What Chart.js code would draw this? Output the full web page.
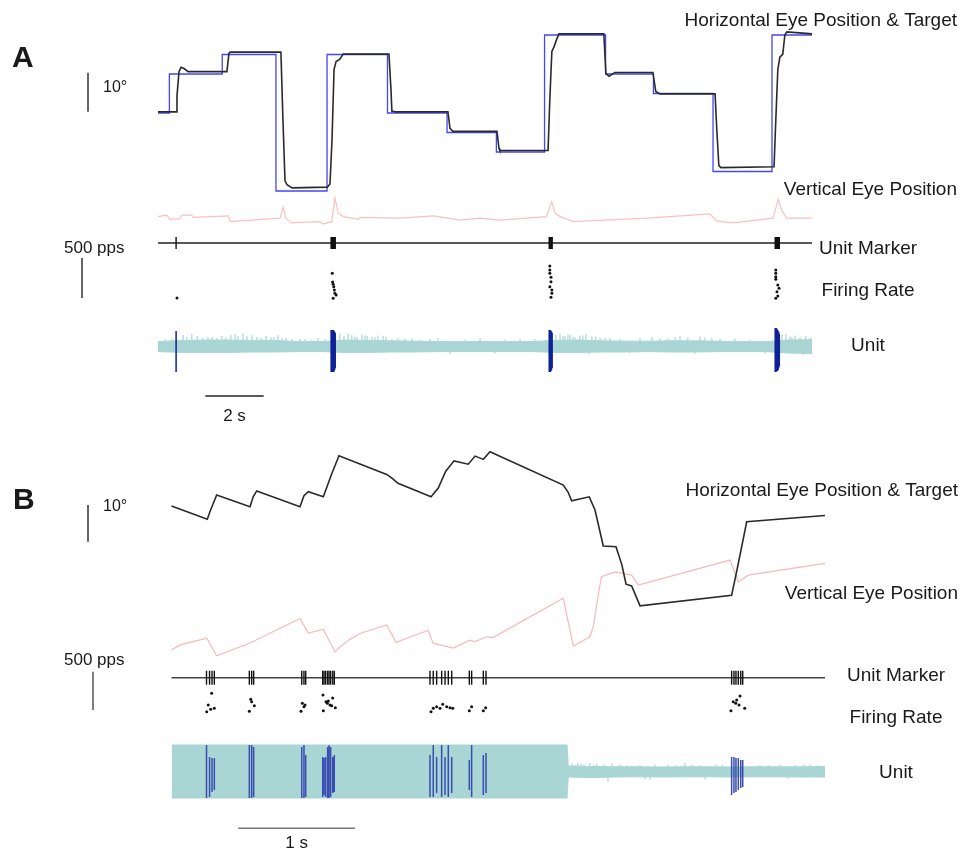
<!DOCTYPE html>
<html><head><meta charset="utf-8">
<script src="https://cdn.jsdelivr.net/npm/chart.js@4.4.1/dist/chart.umd.min.js"></script>
<style>
html,body{margin:0;padding:0;background:#fff;}
#wrap{position:relative;width:963px;height:850px;overflow:hidden;}
canvas{position:absolute;left:0;}
#cA{top:0;}
#cB{top:430px;}
</style></head><body>
<div id="wrap"><canvas id="cA" width="963" height="430"></canvas><canvas id="cB" width="963" height="420"></canvas></div>
<script>
// ================= DATA =================
const PANEL_LETTERS = ['A', 'B'];
const TOP_LABELS = ['Horizontal Eye Position & Target', 'Vertical Eye Position'];
const LOW_LABELS = ['Unit Marker', 'Firing Rate', 'Unit'];
const DEG_LABEL = '10°';
const RATE_LABEL = '500 pps';
const TIME_LABELS = ['2 s', '1 s'];

// ---- Panel A (time in s, positions in deg, rate in pps, unit in µV) ----
const A_range = [0, 22.4];
const A_eyeT = [0,0.62,0.65,0.72,0.79,0.89,1.03,2.36,2.43,2.47,4.21,4.28,4.35,4.42,4.59,5.80,5.89,5.96,6.03,6.10,6.23,6.34,7.91,7.98,8.01,8.12,9.93,10.00,10.10,11.61,11.68,11.71,13.36,13.42,13.49,13.56,13.66,13.73,15.27,15.34,15.45,15.55,15.65,16.95,17.05,17.19,19.08,19.14,19.21,19.28,21.10,21.16,21.23,21.30,21.40,21.47,21.54,22.40];
const A_eyeDeg = [0.3,0.3,4.4,10.6,11.7,11.4,10.6,10.6,15.3,15.6,15.6,-1.8,-17.4,-18.4,-19.2,-19.0,-18.2,-7.0,11.2,13.2,13.8,15.1,15.1,6.0,0.5,0.3,0.3,-3.9,-4.7,-4.7,-9.1,-9.6,-9.6,3.4,15.8,16.9,19.0,20.3,20.3,10.1,9.4,9.9,10.4,10.4,5.5,4.9,4.9,-4.4,-13.5,-14.0,-13.8,-1.8,11.2,14.3,15.1,20.0,20.8,20.3];
const A_tgtT = [0,0.39,2.20,4.04,5.79,7.86,9.90,11.59,13.24,15.33,16.97,19.01,21.03,22.40];
const A_tgtDeg = [0,10,15,-20,15,0,-5,-10,20,10,5,-15,20,20];
const A_vT = [0,0.30,0.41,0.75,0.81,1.15,1.21,2.41,2.47,4.18,4.29,4.38,4.58,5.55,5.64,5.95,6.06,6.17,6.35,6.86,6.92,8.29,9.43,10.34,11.03,11.71,13.31,13.48,13.60,13.77,14.11,14.22,16.74,18.90,19.13,19.70,21.07,21.24,21.36,21.53,22.39];
const A_vDeg = [0.1,0.5,-0.6,-0.4,0.5,0.5,-0.1,0.3,-1.2,-0.3,2.5,-0.3,-1.5,-1.2,-1.8,-1.2,4.9,1.0,0.1,-0.6,-0.1,-0.3,0.3,-0.8,-0.3,-0.8,0.1,4.0,1.0,0.1,-0.8,-1.2,-0.3,0.8,-1.0,-1.5,-0.3,4.6,1.8,-0.3,-0.3];
const A_spkT = [0.62,5.93,5.95,5.97,5.99,6.01,6.03,6.05,6.07,13.40,13.42,13.44,13.46,13.48,13.50,21.14,21.16,21.18,21.20,21.22,21.24,21.26,21.28];
const A_spkHi = [75,80,75,80,75,80,75,70,65,80,78,80,75,72,65,90,85,90,85,80,75,70,60];
const A_spkLo = [-130,-130,-128,-130,-125,-130,-128,-120,-110,-130,-128,-130,-125,-120,-110,-130,-130,-128,-125,-125,-120,-110,-100];
const A_rateT = [0.65,5.97,5.98,6.00,6.02,6.04,6.06,6.10,6.00,13.42,13.42,13.42,13.46,13.46,13.42,13.49,13.49,13.46,21.16,21.16,21.16,21.16,21.23,21.27,21.20,21.23,21.16];
const A_rate = [50,359,250,221,191,150,109,88,46,450,400,359,309,254,191,150,109,59,400,359,316,284,213,171,129,75,46];
const A_envT = [0,0.8,1.6,2.4,3.2,4.0,4.8,5.6,6.4,7.2,8.0,8.8,9.6,10.4,11.2,12.0,12.8,13.6,14.4,15.2,16.0,16.8,17.6,18.4,19.2,20.0,20.8,21.6,22.4];
const A_envHi = [22,28,30,30,28,28,22,22,30,28,26,24,22,22,22,22,22,28,30,26,24,24,26,26,24,22,22,30,32];
const A_envLo = [-28,-32,-32,-32,-30,-30,-28,-28,-32,-32,-30,-30,-28,-28,-28,-28,-28,-32,-32,-30,-30,-28,-30,-30,-28,-28,-28,-35,-38];
const A_pkT = [0.86,0.99,1.16,1.34,1.54,1.85,2.50,2.64,2.74,2.91,3.05,3.22,3.39,3.70,3.87,4.11,4.38,4.86,5.48,6.23,6.37,6.51,6.64,6.82,6.99,7.16,7.33,7.53,7.81,8.22,8.70,9.59,11.03,12.40,13.63,13.77,13.94,14.11,14.28,14.45,14.66,14.86,15.14,15.48,16.51,16.92,17.47,17.88,18.15,18.56,18.97,19.76,21.37,21.51,21.64,21.82,21.99,22.19,22.33,
  0.24,0.48,1.71,2.02,2.19,2.33,3.53,3.97,4.25,4.59,5.03,5.27,5.72,6.75,7.09,7.43,7.71,8.01,8.46,8.97,9.32,10.00,10.51,11.54,11.88,12.91,13.25,13.87,14.04,14.21,14.55,14.76,14.99,15.31,15.82,16.16,17.19,17.71,18.39,18.73,19.25,20.27,20.79,21.71,22.09];
const A_pk = [55,45,60,50,40,45,55,60,50,62,48,55,45,50,42,55,40,38,40,60,50,62,55,45,58,50,45,52,48,40,38,42,40,38,55,62,50,58,45,52,60,48,42,40,40,45,38,50,42,48,40,38,55,60,48,52,45,50,42,
  35,38,45,40,50,42,40,45,38,35,35,32,35,48,52,45,50,35,38,32,35,-40,32,-38,32,35,30,50,55,45,52,-42,48,40,35,-38,38,45,-40,42,35,32,-38,45,-45];

// ---- Panel B ----
const B_range = [0, 5.6];
const B_eyeT = [0.000,0.307,0.330,0.387,0.673,0.700,0.730,1.101,1.135,1.172,1.301,1.370,1.435,1.844,1.889,1.941,2.224,2.286,2.350,2.421,2.543,2.601,2.672,2.729,3.357,3.398,3.429,3.580,3.629,3.700,3.809,3.860,3.895,3.943,4.015,4.800,4.846,4.929,5.600];
const B_eyeDeg = [0.0,-3.6,-1.5,3.0,-0.2,2.5,4.1,-0.2,2.8,3.9,2.5,8.5,13.7,8.6,7.6,6.2,2.5,4.9,9.5,12.3,11.4,13.6,12.7,14.8,5.7,3.8,1.4,2.5,-1.1,-10.9,-11.1,-16.1,-21.3,-21.8,-27.2,-24.3,-17.4,-4.3,-2.6];
const B_vT = [0.000,0.073,0.302,0.387,0.673,1.101,1.172,1.301,1.401,1.450,1.530,1.615,1.844,1.924,2.200,2.243,2.301,2.415,2.558,2.601,2.701,2.755,3.357,3.443,3.586,3.615,3.645,3.670,3.686,3.800,3.943,4.000,4.786,4.857,4.943,5.600];
const B_vDeg = [0.0,1.4,3.2,-1.6,1.9,8.6,4.6,5.6,-0.5,1.0,2.9,4.5,6.8,2.1,5.4,1.8,1.4,0.5,2.7,2.3,3.6,3.4,14.1,1.1,3.6,6.5,12.5,17.5,20.0,21.3,20.4,17.7,24.5,18.6,20.4,23.6];
const B_spkT = [0.300,0.326,0.347,0.367,0.667,0.687,0.704,1.116,1.135,1.150,1.296,1.307,1.321,1.338,1.350,1.364,1.382,1.395,2.215,2.243,2.272,2.315,2.344,2.372,2.401,2.552,2.572,2.672,2.695,4.800,4.820,4.837,4.857,4.878,4.895];
const B_spkHi = [135,75,70,70,135,135,125,125,135,85,75,70,75,125,135,125,75,85,85,135,75,135,75,135,75,60,135,85,95,75,75,70,70,60,60];
const B_spkLo = [-130,-125,-100,-90,-130,-130,-125,-130,-130,-125,-125,-115,-125,-130,-130,-125,-105,-100,-125,-125,-105,-125,-115,-125,-105,-90,-125,-115,-105,-115,-105,-100,-90,-80,-75];
const B_rateT = [0.344,0.315,0.336,0.367,0.302,0.679,0.687,0.710,0.667,1.121,1.144,1.135,1.110,1.298,1.381,1.324,1.344,1.335,1.358,1.373,1.404,1.301,2.224,2.243,2.272,2.301,2.324,2.358,2.386,2.410,2.552,2.572,2.672,2.692,4.872,4.843,4.814,4.835,4.863,4.912,4.794];
const B_rate = [270,117,61,74,30,192,160,108,35,140,117,95,35,248,209,160,170,140,117,108,82,43,30,74,95,74,127,95,82,74,43,95,43,82,235,183,160,140,117,74,43];
const B_envT = [0,3.39,3.40,3.6,3.8,4.0,4.2,4.4,4.6,4.8,5.0,5.2,5.4,5.6];
const B_envHi = [135,135,30,28,26,26,25,26,26,25,26,26,26,28];
const B_envLo = [-130,-130,-25,-28,-25,-24,-25,-24,-24,-25,-24,-24,-25,-25];
const B_pkT = [3.432,3.483,3.535,3.585,3.646,3.706,3.740,3.774,3.843,4.015,4.100,4.143,4.255,4.400,4.529,4.572,4.666,5.043,5.215,5.344,5.473,3.460,3.510,3.620,3.900,4.060,4.320,4.460,4.720,5.120,5.280,5.420,5.540];
const B_pk = [42,45,38,45,40,38,-48,42,36,35,-40,38,36,45,35,-38,38,36,38,35,38,35,40,36,34,-36,34,38,36,34,-34,36,34];

// ================= LAYOUT / STYLE =================
const FONT = "'Liberation Sans', Arial, Helvetica, sans-serif";
const TXT = '#1a1a1a';
const TEAL = '#a9d6d4';

const LAYOUT_A = {
  canvas: 'cA', height: 430, left: 158, right: 812,
  eye: {zero: 113, ppu: 3.9}, vert: {zero: 217, ppu: 3.9}, marker: {zero: 243, ppu: 1},
  rate: {zero: 302, ppu: 0.08}, unit: {zero: 346, ppu: 0.2},
  tickR: 6, spikeColor: '#0f2196', markerColor: '#222', vertColor: '#f8c1c1',
  degBar: {x: 88, from: 0.35, to: 10.35, color: '#333'},
  rateBar: {x: 82, from: 50, to: 550, color: '#333'},
  timeBar: {y: 396, from: 1.62, to: 3.62, color: '#222'},
  letter: {x: 12, y: 67}, degText: {x: 103, y: 92}, rateText: {x: 64, y: 253}, timeText: {y: 421},
  topX: 957, topY: [26, 195], lowX: 868, lowY: [254, 296, 351]
};
const LAYOUT_B = {
  canvas: 'cB', height: 420, left: 171.5, right: 825,
  eye: {zero: 76, ppu: 3.67}, vert: {zero: 220, ppu: 3.67}, marker: {zero: 247.7, ppu: 1},
  rate: {zero: 284, ppu: 0.0766}, unit: {zero: 342, ppu: 0.2},
  tickR: 7, spikeColor: '#3a4db0', markerColor: '#444', vertColor: '#f8b9b9',
  degBar: {x: 88, from: -9.73, to: 0.27, color: '#333'},
  rateBar: {x: 93, from: 52, to: 552, color: '#555'},
  timeBar: {y: 398.3, from: 0.572, to: 1.572, color: '#777'},
  letter: {x: 13, y: 79}, degText: {x: 103, y: 81}, rateText: {x: 64, y: 235}, timeText: {y: 418},
  topX: 958, topY: [66, 169], lowX: 896, lowY: [251, 293, 348]
};

// ================= BUILD =================
function pts(xs, ys) { return xs.map((x, i) => ({x: x, y: ys[i]})); }
function segs(xs, lo, hi) {
  const o = [];
  xs.forEach((x, i) => { o.push({x: x, y: lo ? lo[i] : 0}, {x: x, y: hi[i]}, {x: x, y: null}); });
  return o;
}
function axisRange(a, H) {
  return {type: 'linear', display: false, min: -(H - a.zero) / a.ppu, max: a.zero / a.ppu};
}
function annot(L, letter, timeLabel) {
  return {
    id: 'annot',
    afterDraw(chart) {
      const c = chart.ctx, s = chart.scales;
      c.save();
      c.lineWidth = 1.5; c.lineCap = 'butt';
      const vbar = (b, scale) => {
        c.strokeStyle = b.color; c.beginPath();
        c.moveTo(b.x, scale.getPixelForValue(b.from));
        c.lineTo(b.x, scale.getPixelForValue(b.to)); c.stroke();
      };
      vbar(L.degBar, s.yEye);
      vbar(L.rateBar, s.yR);
      const x0 = s.x.getPixelForValue(L.timeBar.from), x1 = s.x.getPixelForValue(L.timeBar.to);
      c.strokeStyle = L.timeBar.color; c.beginPath();
      c.moveTo(x0, L.timeBar.y); c.lineTo(x1, L.timeBar.y); c.stroke();

      c.fillStyle = TXT; c.textBaseline = 'alphabetic';
      c.font = 'bold 30px ' + FONT; c.textAlign = 'left';
      c.fillText(letter, L.letter.x, L.letter.y);
      c.font = '16px ' + FONT;
      c.fillText(DEG_LABEL, L.degText.x, L.degText.y);
      c.font = '17px ' + FONT;
      c.fillText(RATE_LABEL, L.rateText.x, L.rateText.y);
      c.textAlign = 'center';
      c.fillText(timeLabel, (x0 + x1) / 2, L.timeText.y);
      c.font = '19px ' + FONT; c.textAlign = 'right';
      TOP_LABELS.forEach((t, i) => c.fillText(t, L.topX, L.topY[i]));
      c.textAlign = 'center';
      LOW_LABELS.forEach((t, i) => c.fillText(t, L.lowX, L.lowY[i]));
      c.restore();
    }
  };
}
function buildPanel(L, D, letter, timeLabel) {
  const H = L.height;
  const base = (data, color, width, yAxisID, extra) => Object.assign({
    type: 'line', data: data, borderColor: color, backgroundColor: color, borderWidth: width,
    pointRadius: 0, yAxisID: yAxisID, fill: false, tension: 0, clip: false, spanGaps: false
  }, extra || {});
  const datasets = [
    base(pts(D.eyeT, D.eyeDeg), '#2a2a2a', 1.6, 'yEye'),
    D.tgtT ? base(pts(D.tgtT, D.tgtDeg), '#4646f5', 1.3, 'yEye', {stepped: true}) : null,
    base(pts(D.vT, D.vDeg), L.vertColor, 1.2, 'yV'),
    base(pts(D.spkT, D.spkT.map(() => 0)), L.markerColor, 1.4, 'yM',
      {showLine: false, pointStyle: 'line', pointRotation: 90, pointRadius: L.tickR, pointBorderWidth: 1.4, pointBorderColor: '#111'}),
    base(pts(D.range, D.range.map(() => 0)), L.markerColor, 1.5, 'yM'),
    base(pts(D.rateT, D.rate), '#111', 1, 'yR',
      {showLine: false, pointRadius: 1.5, pointBorderWidth: 0, pointBackgroundColor: '#111'}),
    base(segs(D.spkT, D.spkLo, D.spkHi), L.spikeColor, 1.5, 'yU'),
    base(segs(D.pkT, null, D.pk), TEAL, 1.2, 'yU'),
    base(pts(D.envT, D.envHi), TEAL, 1, 'yU', {fill: '+1', backgroundColor: TEAL}),
    base(pts(D.envT, D.envLo), TEAL, 1, 'yU')
  ].filter(Boolean);
  return new Chart(document.getElementById(L.canvas), {
    type: 'line',
    data: {datasets: datasets},
    options: {
      responsive: false, animation: false, devicePixelRatio: 1, events: [],
      layout: {autoPadding: false, padding: {left: L.left, right: 963 - L.right, top: 0, bottom: 0}},
      scales: {
        x: {type: 'linear', display: false, min: D.range[0], max: D.range[1]},
        yEye: axisRange(L.eye, H), yV: axisRange(L.vert, H), yM: axisRange(L.marker, H),
        yR: axisRange(L.rate, H), yU: axisRange(L.unit, H)
      },
      plugins: {legend: {display: false}, tooltip: {enabled: false}}
    },
    plugins: [annot(L, letter, timeLabel)]
  });
}

buildPanel(LAYOUT_A, {
  range: A_range, eyeT: A_eyeT, eyeDeg: A_eyeDeg, tgtT: A_tgtT, tgtDeg: A_tgtDeg,
  vT: A_vT, vDeg: A_vDeg, spkT: A_spkT, spkHi: A_spkHi, spkLo: A_spkLo,
  rateT: A_rateT, rate: A_rate, envT: A_envT, envHi: A_envHi, envLo: A_envLo, pkT: A_pkT, pk: A_pk
}, PANEL_LETTERS[0], TIME_LABELS[0]);

buildPanel(LAYOUT_B, {
  range: B_range, eyeT: B_eyeT, eyeDeg: B_eyeDeg,
  vT: B_vT, vDeg: B_vDeg, spkT: B_spkT, spkHi: B_spkHi, spkLo: B_spkLo,
  rateT: B_rateT, rate: B_rate, envT: B_envT, envHi: B_envHi, envLo: B_envLo, pkT: B_pkT, pk: B_pk
}, PANEL_LETTERS[1], TIME_LABELS[1]);
</script>
</body></html>
